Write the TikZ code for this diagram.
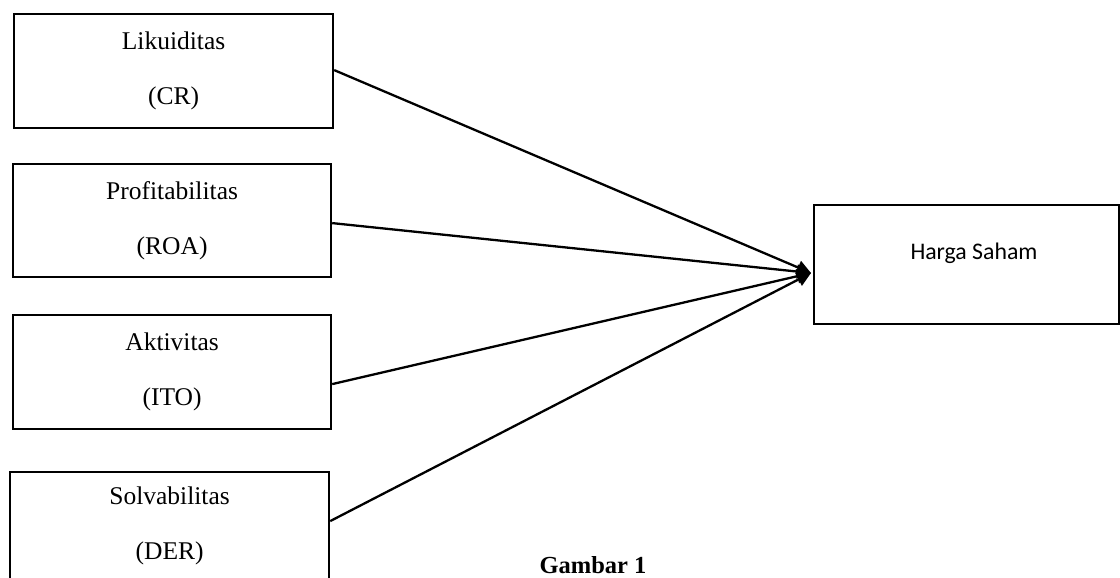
\documentclass[tikz,border=0pt]{standalone}
\usepackage{fontspec}
\setmainfont{Liberation Serif}
\newfontfamily\calibrifont{Carlito}
\usetikzlibrary{arrows.meta}
\tikzset{
  varbox/.style={draw, line width=2.2pt, inner sep=0pt, align=center, anchor=north west,
    font=\fontsize{25.5}{55}\selectfont},
  link/.style={line width=2.3pt, -{Triangle[length=14pt,width=14pt]}},
}
\begin{document}
\begin{tikzpicture}[x=1pt,y=-1pt]
\useasboundingbox (0,0) rectangle (1120,578);
\node[varbox, minimum width=319pt, minimum height=114pt] (b1) at (13,13) {Likuiditas\\(CR)};
\node[varbox, minimum width=318pt, minimum height=113pt] (b2) at (12,163) {Profitabilitas\\(ROA)};
\node[varbox, minimum width=318pt, minimum height=114pt] (b3) at (12,314) {Aktivitas\\(ITO)};
\node[varbox, minimum width=319pt, minimum height=108pt] (b4) at (9,471) {Solvabilitas\\(DER)};
\node[draw, line width=2.2pt, anchor=north west, minimum width=305pt, minimum height=119pt] (hs) at (813,204) {};
\node[anchor=base, font=\calibrifont\fontsize{23.8}{28}\selectfont] (hst) at (974,259) {Harga Saham};
\node[anchor=base, font=\bfseries\fontsize{24.5}{28}\selectfont] (cap) at (593,573) {Gambar 1};
\coordinate (tip) at (811,273);
\draw[link] ([yshift=1pt]b1.east) -- (tip);
\draw[link] ([yshift=-2.5pt]b2.east) -- (tip);
\draw[link] ([yshift=-12pt]b3.east) -- (tip);
\draw[link] ([yshift=5pt]b4.east) -- (tip);
\end{tikzpicture}
\end{document}
